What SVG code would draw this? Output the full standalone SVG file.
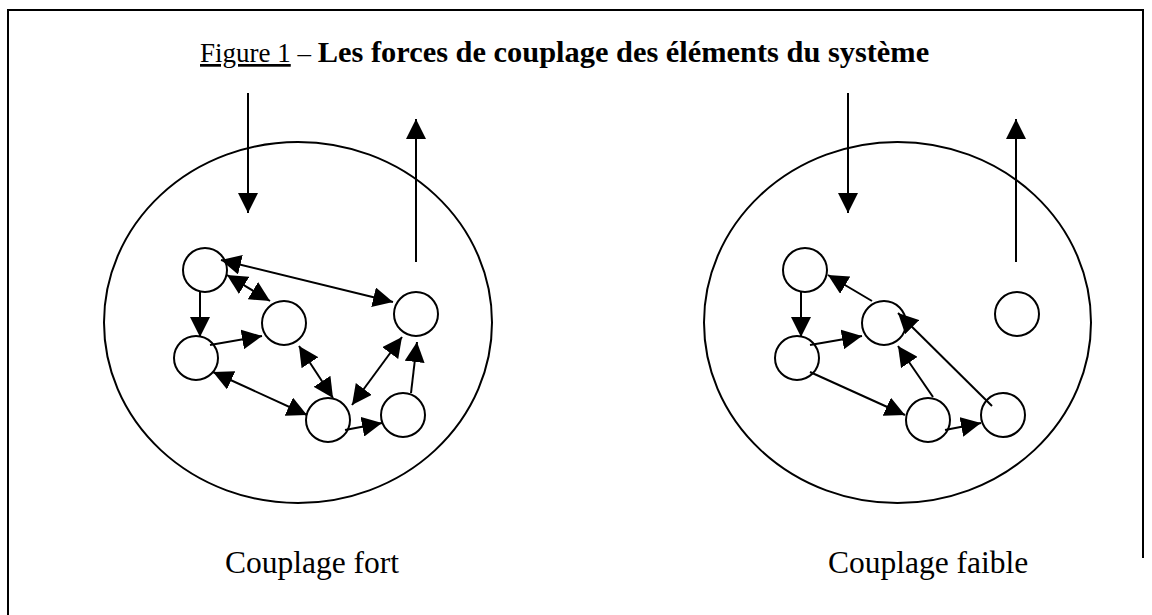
<svg xmlns="http://www.w3.org/2000/svg" width="1152" height="615" viewBox="0 0 1152 615">
<style>
.ln{stroke:#000;stroke-width:2;fill:none}
.nd{stroke:#000;stroke-width:2;fill:#fff}
.big{stroke:#000;stroke-width:2;fill:none}
.t{font-family:"Liberation Serif","Times New Roman",serif;fill:#000}
</style>
<defs>
<marker id="ah" viewBox="0 0 20 20" refX="20" refY="10" markerWidth="20" markerHeight="20" markerUnits="userSpaceOnUse" orient="auto-start-reverse">
<path d="M0,0 L20,10 L0,20 Z" fill="#000"/>
</marker>
</defs>
<rect width="1152" height="615" fill="#fff"/>
<g id="frame"><path class="ln" d="M8,615 V10 H1143 V558" stroke-width="3"/></g>
<text class="t" x="200" y="62" font-size="27"><tspan text-decoration="underline">Figure 1</tspan> – <tspan font-weight="bold" font-size="30.4">Les forces de couplage des éléments du système</tspan></text>
<g id="system-fort">
<ellipse class="big" cx="298" cy="322.5" rx="194" ry="180.5"/>
</g>
<g id="system-faible">
<ellipse class="big" cx="897.5" cy="322.5" rx="193.5" ry="180.5"/>
</g>
<g id="nodes-fort">
<circle id="f-a" class="nd" cx="205" cy="270" r="22"/>
<circle id="f-b" class="nd" cx="284" cy="323" r="22"/>
<circle id="f-c" class="nd" cx="196" cy="358" r="22"/>
<circle id="f-d" class="nd" cx="416" cy="314" r="22"/>
<circle id="f-e" class="nd" cx="328" cy="420" r="22"/>
<circle id="f-f" class="nd" cx="403" cy="415" r="22"/>
</g>
<g id="nodes-faible">
<circle id="w-a" class="nd" cx="805" cy="270" r="22"/>
<circle id="w-b" class="nd" cx="884" cy="323" r="22"/>
<circle id="w-c" class="nd" cx="797" cy="358" r="22"/>
<circle id="w-d" class="nd" cx="1017" cy="314" r="22"/>
<circle id="w-e" class="nd" cx="928" cy="420" r="22"/>
<circle id="w-f" class="nd" cx="1003" cy="415" r="22"/>
</g>
<g id="connectors">
<line class="ln" x1="248" y1="93" x2="248" y2="213" marker-end="url(#ah)"/>
<line class="ln" x1="416" y1="262" x2="416" y2="119" marker-end="url(#ah)"/>
<line class="ln" x1="848" y1="93" x2="848" y2="213" marker-end="url(#ah)"/>
<line class="ln" x1="1016" y1="262" x2="1016" y2="119" marker-end="url(#ah)"/>

<line class="ln" x1="221" y1="260" x2="393" y2="302" marker-start="url(#ah)" marker-end="url(#ah)"/>
<line class="ln" x1="227" y1="275" x2="270" y2="301" marker-start="url(#ah)" marker-end="url(#ah)"/>
<line class="ln" x1="200" y1="292" x2="200" y2="337" marker-end="url(#ah)"/>
<line class="ln" x1="210" y1="345" x2="262" y2="336" marker-end="url(#ah)"/>
<line class="ln" x1="213" y1="372" x2="307" y2="415" marker-start="url(#ah)" marker-end="url(#ah)"/>
<line class="ln" x1="299" y1="346" x2="333" y2="398" marker-start="url(#ah)" marker-end="url(#ah)"/>
<line class="ln" x1="352" y1="405" x2="402" y2="337" marker-start="url(#ah)" marker-end="url(#ah)"/>
<line class="ln" x1="411" y1="393" x2="417" y2="342" marker-end="url(#ah)"/>
<line class="ln" x1="345" y1="430" x2="382" y2="423" marker-end="url(#ah)"/>

<line class="ln" x1="872" y1="301" x2="828" y2="275" marker-end="url(#ah)"/>
<line class="ln" x1="801" y1="292" x2="801" y2="337" marker-end="url(#ah)"/>
<line class="ln" x1="810" y1="345" x2="862" y2="336" marker-end="url(#ah)"/>
<line class="ln" x1="810" y1="372" x2="905" y2="415" marker-end="url(#ah)"/>
<line class="ln" x1="933" y1="397" x2="898" y2="346" marker-end="url(#ah)"/>
<line class="ln" x1="992" y1="406" x2="898" y2="313" marker-end="url(#ah)"/>
<line class="ln" x1="945" y1="430" x2="981" y2="423" marker-end="url(#ah)"/>
</g>
<text class="t" x="225" y="573" font-size="31.5">Couplage fort</text>
<text class="t" x="828" y="573" font-size="31.5">Couplage faible</text>
</svg>
